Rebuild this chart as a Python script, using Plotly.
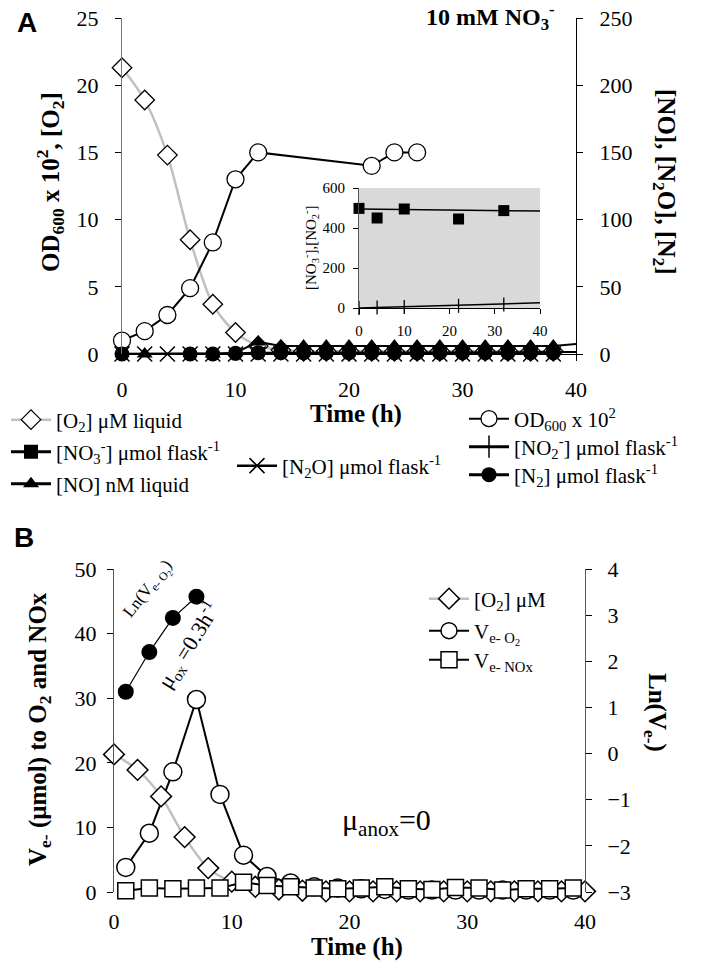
import plotly.graph_objects as go

# ---------------- Panel A data ----------------
a_t_o2 = [0, 2, 4, 6, 8, 10, 12, 14, 16, 18, 20, 22, 24, 26, 28, 30, 32, 34, 36, 38]
a_o2 = [21.3, 18.9, 14.8, 8.5, 3.7, 1.6, 0.6, 0.3, 0.2, 0.2, 0.2, 0.2, 0.2, 0.2, 0.2, 0.2, 0.2, 0.2, 0.2, 0.2]

a_t_od = [0, 2, 4, 6, 8, 10, 12, 22, 24, 26]
a_od = [1.0, 1.7, 2.9, 4.9, 8.3, 13.0, 15.0, 14.0, 15.0, 15.0]

a_t_no = [2, 8, 10, 12, 14, 16, 18, 20, 22, 24, 26, 28, 30, 32, 34, 36, 38, 42]
a_no = [0, 0, 1, 9, 6, 6, 6, 6, 6, 6, 6, 6, 6, 6, 6, 6, 6, 9]

a_t_n2o = [0, 2, 4, 6, 8, 10, 12, 14, 16, 18, 20, 22, 24, 26, 28, 30, 32, 34, 36, 38]
a_n2o = [0] * 20

a_t_n2 = [0, 6, 8, 10, 12, 14, 16, 18, 20, 22, 24, 26, 28, 30, 32, 34, 36, 38, 42]
a_n2 = [0, 0, 0, 0.5, 1, 1, 1, 1, 1, 1, 1, 1, 1, 1, 1, 1, 1, 1, 1.5]

# inset
in_t = [0, 4, 10, 22, 32]
in_no3 = [498, 450, 495, 445, 487]
in_no2 = [0, 2, 5, 11, 18]
in_line_t = [0, 40]
in_no3_line = [495, 485]
in_no2_line = [0, 26]

# ---------------- Panel B data ----------------
b_t_o2 = [0, 2, 4, 6, 8, 10, 12, 14, 16, 18, 20, 22, 24, 26, 28, 30, 32, 34, 36, 38, 40]
b_o2 = [21.3, 18.9, 14.8, 8.5, 3.7, 1.6, 0.8, 0.4, 0.2, 0.1, 0.1, 0.1, 0.1, 0.1, 0.1, 0.1, 0.1, 0.1, 0.1, 0.1, 0.1]

b_t_odd = [1, 3, 5, 7, 9, 11, 13, 15, 17, 19, 21, 23, 25, 27, 29, 31, 33, 35, 37, 39]
b_ve_o2 = [3.8, 9.1, 18.6, 29.8, 15.1, 5.7, 2.4, 1.4, 0.8, 0.6, 0.5, 0.4, 0.3, 0.3, 0.3, 0.3, 0.3, 0.3, 0.3, 0.3]
b_ve_nox = [0.2, 0.6, 0.5, 0.6, 0.6, 1.5, 1.0, 0.8, 0.6, 0.5, 0.6, 0.8, 0.5, 0.4, 0.7, 0.6, 0.3, 0.5, 0.5, 0.6]

b_t_ln = [1, 3, 5, 7]
b_ln = [1.34, 2.2, 2.94, 3.4]

W, H = 708, 961
def px(x):
    return x / W
def py(y):
    return 1 - y / H

SERIF = "Liberation Serif"
GRAY = "#c0c0c0"

fig = go.Figure()

# ---- Panel A main (left axis) ----
fig.add_trace(go.Scatter(x=a_t_o2, y=a_o2, mode="lines+markers", name="[O<sub>2</sub>] μM liquid",
    line=dict(color=GRAY, width=2.5, shape="spline", smoothing=0.8),
    marker=dict(symbol="diamond", size=15, color="white", line=dict(color="black", width=1.3)),
    xaxis="x", yaxis="y", cliponaxis=False, legend="legend"))
fig.add_trace(go.Scatter(x=a_t_od, y=a_od, mode="lines+markers", name="OD<sub>600</sub> x 10<sup>2</sup>",
    line=dict(color="black", width=2),
    marker=dict(symbol="circle", size=17, color="white", line=dict(color="black", width=1.3)),
    xaxis="x", yaxis="y", cliponaxis=False, legend="legend3"))

# ---- Panel A right axis ----
fig.add_trace(go.Scatter(x=a_t_n2o, y=a_n2o, mode="lines+markers", name="[N<sub>2</sub>O] μmol flask<sup>-1</sup>",
    line=dict(color="black", width=2.5),
    marker=dict(symbol="x-thin", size=15, color="black", line=dict(color="black", width=1.5)),
    xaxis="x", yaxis="y2", cliponaxis=False, legend="legend2"))
fig.add_trace(go.Scatter(x=a_t_no, y=a_no, mode="lines", showlegend=False,
    line=dict(color="black", width=2), xaxis="x", yaxis="y2", cliponaxis=True))
fig.add_trace(go.Scatter(x=a_t_no[:-1], y=a_no[:-1], mode="markers", showlegend=False,
    marker=dict(symbol="triangle-up", size=14, color="black"),
    xaxis="x", yaxis="y2", cliponaxis=False))
fig.add_trace(go.Scatter(x=a_t_n2, y=a_n2, mode="lines", showlegend=False,
    line=dict(color="black", width=2), xaxis="x", yaxis="y2", cliponaxis=True))
fig.add_trace(go.Scatter(x=a_t_n2[:-1], y=a_n2[:-1], mode="markers", showlegend=False,
    marker=dict(symbol="circle", size=15, color="black"),
    xaxis="x", yaxis="y2", cliponaxis=False))

# legend-only entries for NO and N2
fig.add_trace(go.Scatter(x=[None], y=[None], mode="lines+markers", name="[NO] nM liquid",
    line=dict(color="black", width=3), marker=dict(symbol="triangle-up", size=14, color="black"),
    xaxis="x", yaxis="y2", legend="legend6"))
fig.add_trace(go.Scatter(x=[None], y=[None], mode="lines+markers", name="[N<sub>2</sub>] μmol flask<sup>-1</sup>",
    line=dict(color="black", width=3), marker=dict(symbol="circle", size=15, color="black"),
    xaxis="x", yaxis="y2", legend="legend8"))

# ---- Inset ----
fig.add_trace(go.Scatter(x=in_line_t, y=in_no3_line, mode="lines", showlegend=False,
    line=dict(color="black", width=1.5), xaxis="x3", yaxis="y3"))
fig.add_trace(go.Scatter(x=in_line_t, y=in_no2_line, mode="lines", showlegend=False,
    line=dict(color="black", width=1.5), xaxis="x3", yaxis="y3"))
fig.add_trace(go.Scatter(x=in_t, y=in_no3, mode="markers", showlegend=False,
    marker=dict(symbol="square", size=11, color="black"),
    xaxis="x3", yaxis="y3", cliponaxis=False))
fig.add_trace(go.Scatter(x=in_t, y=in_no2, mode="markers", showlegend=False,
    marker=dict(symbol="line-ns", size=10, color="black", line=dict(color="black", width=1.3)),
    xaxis="x3", yaxis="y3", cliponaxis=False))
fig.add_trace(go.Scatter(x=[None], y=[None], mode="lines+markers", name="[NO<sub>3</sub><sup>-</sup>] μmol flask<sup>-1</sup>",
    line=dict(color="black", width=3), marker=dict(symbol="square", size=14, color="black"),
    xaxis="x3", yaxis="y3", legend="legend5"))
fig.add_trace(go.Scatter(x=[None], y=[None], mode="lines+markers", name="[NO<sub>2</sub><sup>-</sup>] μmol flask<sup>-1</sup>",
    line=dict(color="black", width=3), marker=dict(symbol="cross-thin", size=18, color="black", line=dict(color="black", width=1.5)),
    xaxis="x3", yaxis="y3", legend="legend7"))

# ---- Panel B ----
fig.add_trace(go.Scatter(x=b_t_odd, y=b_ve_o2, mode="lines+markers", name="V<sub>e- O<sub>2</sub></sub>",
    line=dict(color="black", width=2),
    marker=dict(symbol="circle", size=18, color="white", line=dict(color="black", width=1.5)),
    xaxis="x4", yaxis="y4", cliponaxis=False, legend="legend9"))
fig.add_trace(go.Scatter(x=b_t_o2, y=b_o2, mode="lines+markers", name="[O<sub>2</sub>] μM",
    line=dict(color=GRAY, width=2.5, shape="spline", smoothing=0.8),
    marker=dict(symbol="diamond", size=16, color="white", line=dict(color="black", width=1.5)),
    xaxis="x4", yaxis="y4", cliponaxis=False, legend="legend4"))
fig.add_trace(go.Scatter(x=b_t_odd, y=b_ve_nox, mode="lines+markers", name="V<sub>e- NOx</sub>",
    line=dict(color="black", width=2),
    marker=dict(symbol="square", size=16, color="white", line=dict(color="black", width=1.5)),
    xaxis="x4", yaxis="y4", cliponaxis=False, legend="legend10"))
fig.add_trace(go.Scatter(x=b_t_ln, y=b_ln, mode="lines+markers", showlegend=False,
    line=dict(color="black", width=1.2),
    marker=dict(symbol="circle", size=16, color="black"),
    xaxis="x4", yaxis="y5", cliponaxis=False))

tick_font = dict(family=SERIF, size=22, color="black")
small_font = dict(family=SERIF, size=15, color="black")

def ax(**kw):
    base = dict(showgrid=False, zeroline=False, showline=True, linecolor="black", linewidth=1,
                ticks="outside", ticklen=6, tickcolor="black", tickfont=tick_font, automargin=False)
    base.update(kw)
    return base

def leg(x, y, size=21):
    return dict(font=dict(family=SERIF, size=size, color="black"), bgcolor="rgba(0,0,0,0)",
                xanchor="left", yanchor="middle", x=px(x), y=py(y),
                itemwidth=40, itemsizing="trace")

fig.update_layout(
    width=W, height=H, margin=dict(l=0, r=0, t=0, b=0, pad=0, autoexpand=False),
    paper_bgcolor="white", plot_bgcolor="rgba(0,0,0,0)",
    font=dict(family=SERIF, color="black"),
    xaxis=ax(domain=[px(122), px(576)], range=[0, 40], tickvals=[0, 10, 20, 30, 40], anchor="y",
             ticklabelstandoff=10),
    yaxis=ax(domain=[py(354), py(18)], range=[0, 25], tickvals=[0, 5, 10, 15, 20, 25], anchor="x",
             linecolor="#777777", ticklabelstandoff=12),
    yaxis2=ax(range=[0, 250], tickvals=[0, 50, 100, 150, 200, 250], overlaying="y", side="right", anchor="x",
              ticklabelstandoff=12),
    xaxis3=ax(domain=[px(359), px(540)], range=[0, 40], tickvals=[0, 10, 20, 30, 40], anchor="y3",
              tickfont=small_font, ticklen=5, ticklabelstandoff=4),
    yaxis3=ax(domain=[py(308), py(188)], range=[0, 600], tickvals=[0, 200, 400, 600], anchor="x3",
              tickfont=small_font, ticklen=5, linecolor="#555555", ticklabelstandoff=5),
    xaxis4=ax(domain=[px(114), px(585)], range=[0, 40], tickvals=[0, 10, 20, 30, 40], anchor="y4",
              showline=False, ticks="", ticklabelstandoff=14),
    yaxis4=ax(domain=[py(892), py(569)], range=[0, 50], tickvals=[0, 10, 20, 30, 40, 50], anchor="x4",
              linecolor="#555555", ticklabelstandoff=6),
    yaxis5=ax(range=[-3, 4], tickvals=[-3, -2, -1, 0, 1, 2, 3, 4], overlaying="y4", side="right", anchor="x4",
              linecolor="#555555", ticklabelstandoff=11),
    legend=leg(6, 420),
    legend5=leg(6, 452),
    legend6=leg(6, 484),
    legend2=leg(232, 466),
    legend3=leg(464, 419),
    legend7=leg(464, 447),
    legend8=leg(464, 475),
    legend4=leg(424, 599),
    legend9=leg(424, 631),
    legend10=leg(424, 660),
    showlegend=True,
)

# inset grey background
fig.add_shape(type="rect", xref="x3 domain", yref="y3 domain", x0=0, x1=1, y0=0, y1=1,
              fillcolor="#d9d9d9", line=dict(width=0), layer="below")

def ann(text, x, y, size=20, angle=0, family=SERIF):
    fig.add_annotation(text=text, x=px(x), y=py(y), xref="paper", yref="paper", showarrow=False,
                       xanchor="center", yanchor="middle",
                       textangle=angle, font=dict(family=family, size=size, color="black"))

ann("<b>A</b>", 27, 22, size=28, family="Liberation Sans")
ann("<b>B</b>", 24, 537, size=28, family="Liberation Sans")
ann("<b>10 mM NO<sub>3</sub><sup>-</sup></b>", 490, 17, size=24)
ann("<b>OD<sub>600</sub> x 10<sup>2</sup>, [O<sub>2</sub>]</b>", 50, 182, size=25, angle=-90)
ann("<b>[NO], [N<sub>2</sub>O], [N<sub>2</sub>]</b>", 664, 182, size=25, angle=90)
ann("<b>Time (h)</b>", 356, 414, size=25)
ann("[NO<sub>3</sub><sup>-</sup>],[NO<sub>2</sub><sup>-</sup>]", 311, 248, size=15, angle=-90)

ann("<b>V<sub>e-</sub> (μmol) to O<sub>2</sub> and NOx</b>", 39, 729, size=25, angle=-90)
ann("<b>Ln(V<sub>e-</sub>)</b>", 656, 712, size=25, angle=90)
ann("<b>Time (h)</b>", 357, 947, size=25)
ann("Ln(V<sub>e- O<sub>2</sub></sub>)", 148, 590, size=17, angle=-52)
ann("μ<sub>ox</sub> =0.3h<sup>-1</sup>", 188, 645, size=22, angle=-58)
ann("μ<sub>anox</sub>=0", 386, 822, size=30)

fig.write_html("out.html", config={"displayModeBar": False},
               post_script="document.body.style.margin='0px';document.body.style.overflow='hidden';")
